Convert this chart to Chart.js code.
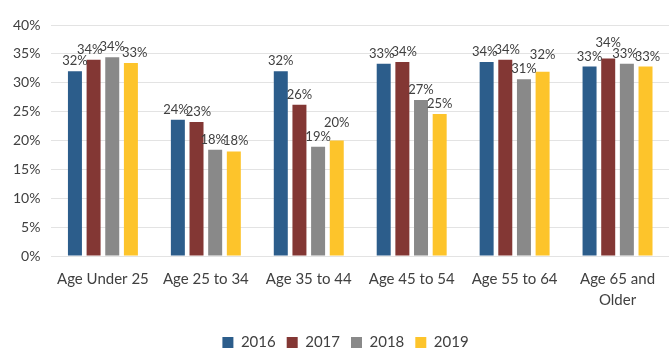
<!DOCTYPE html>
<html>
<head>
<meta charset="utf-8">
<script src="https://cdn.jsdelivr.net/npm/chart.js@4/dist/chart.umd.min.js"></script>
<style>
html,body{margin:0;padding:0;background:#fff;}
#wrap{width:670px;height:360px;position:relative;}
</style>
</head>
<body>
<div id="wrap"><canvas id="c" width="670" height="360"></canvas></div>
<script>
const categories = ["Age Under 25", "Age 25 to 34", "Age 35 to 44", "Age 45 to 54", "Age 55 to 64", ["Age 65 and", "Older"]];
const seriesNames = ["2016", "2017", "2018", "2019"];
const values2016 = [32.0, 23.6, 32.0, 33.3, 33.6, 32.8];
const values2017 = [34.0, 23.2, 26.2, 33.6, 34.0, 34.2];
const values2018 = [34.4, 18.4, 18.9, 27.0, 30.6, 33.3];
const values2019 = [33.4, 18.1, 20.0, 24.6, 31.9, 32.8];
const yTicks = [0, 5, 10, 15, 20, 25, 30, 35, 40];

const colors = ["#2C5D8B", "#833734", "#898989", "#FDC42B"];
const allValues = [values2016, values2017, values2018, values2019];
const FONT = "Lato, 'Open Sans', sans-serif";

// value labels above bars: lift a label over a lower left neighbour it partly hits,
// then spread side-by-side labels apart so they do not overprint
const labelPlugin = {
  id: 'barLabels',
  afterLayout(chart) {
    if (chart.legend) { chart.legend.left += 10; chart.legend.right += 10; }
  },
  afterDatasetsDraw(chart) {
    const ctx = chart.ctx;
    ctx.save();
    ctx.font = "13px " + FONT;
    ctx.fillStyle = "#404040";
    ctx.textAlign = "center";
    ctx.textBaseline = "alphabetic";
    const H = 10, GAP = 6;
    const n = chart.data.labels.length;
    const vov = (a, b) => Math.min(a.base, b.base) - Math.max(a.base - H, b.base - H);
    for (let j = 0; j < n; j++) {
      const labs = [];
      chart.data.datasets.forEach((ds, i) => {
        const bar = chart.getDatasetMeta(i).data[j];
        const txt = Math.round(ds.data[j]) + "%";
        const w = ctx.measureText(txt).width - 3;
        const natural = bar.y - GAP;
        const cur = { x: bar.x, w, base: natural, natural, txt };
        const prev = labs[labs.length - 1];
        if (prev) {
          const hov = Math.min(cur.x + w / 2, prev.x + prev.w / 2) - Math.max(cur.x - w / 2, prev.x - prev.w / 2);
          if (hov > 0 && vov(cur, prev) > 0 && prev.natural - natural > 3) {
            cur.base = prev.base - H - 4;
          }
        }
        labs.push(cur);
      });
      for (let it = 0; it < 6; it++) {
        for (let k = 0; k < labs.length - 1; k++) {
          const a = labs[k], b = labs[k + 1];
          if (vov(a, b) <= 0) continue;
          const ov = (a.x + a.w / 2) - (b.x - b.w / 2);
          if (ov > 0) { a.x -= ov / 2; b.x += ov / 2; }
        }
      }
      labs.forEach(l => ctx.fillText(l.txt, l.x, l.base));
    }
    ctx.restore();
  }
};

new Chart(document.getElementById('c'), {
  type: 'bar',
  data: {
    labels: categories,
    datasets: seriesNames.map((n, i) => ({
      label: n,
      data: allValues[i],
      backgroundColor: colors[i],
      borderWidth: 0,
      barPercentage: 0.75,
      categoryPercentage: 0.725
    }))
  },
  options: {
    responsive: false,
    animation: false,
    layout: { padding: { left: 2, right: 1, top: 25, bottom: 0 } },
    plugins: {
      legend: {
        position: 'bottom',
        labels: {
          boxWidth: 11, boxHeight: 11, padding: 11,
          color: '#404040',
          font: { family: FONT, size: 15 }
        }
      },
      tooltip: { enabled: false }
    },
    scales: {
      x: {
        grid: { display: false },
        border: { display: false },
        afterFit: (axis) => { axis.height += 8; },
        ticks: { color: '#404040', font: { family: FONT, size: 15, lineHeight: 1.4 }, padding: 5, maxRotation: 0, autoSkip: false }
      },
      y: {
        min: 0, max: 40,
        afterBuildTicks: (axis) => { axis.ticks = yTicks.map(v => ({ value: v })); },
        grid: { color: '#E3E3E3', drawTicks: false },
        border: { display: false },
        ticks: { color: '#404040', font: { family: FONT, size: 14 }, padding: 11, callback: v => v + '%' }
      }
    }
  },
  plugins: [labelPlugin]
});
</script>
</body>
</html>
